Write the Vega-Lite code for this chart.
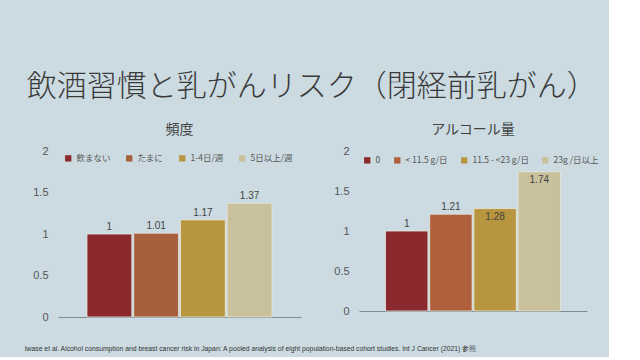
{
  "$schema": "https://vega.github.io/schema/vega-lite/v6.json",
  "background": "#cbdbe1",
  "padding": {"left": 24, "top": 72, "right": 10, "bottom": 4},
  "title": {"text": "飲酒習慣と乳がんリスク（閉経前乳がん）", "fontSize": 30, "font": "Noto Sans CJK JP", "fontWeight": 300, "color": "#3a3a3a", "anchor": "middle", "offset": 21},
  "datasets": {
    "freq": [
      {"category": "飲まない", "value": 1},
      {"category": "たまに", "value": 1.01},
      {"category": "1-4日/週", "value": 1.17},
      {"category": "5日以上/週", "value": 1.37}
    ],
    "alc": [
      {"category": "0", "value": 1},
      {"category": "< 11.5 g/日", "value": 1.21},
      {"category": "11.5 - <23 g/日", "value": 1.28},
      {"category": "23g /日以上", "value": 1.74}
    ]
  },
  "config": {
    "view": {"stroke": null},
    "font": "Noto Sans CJK JP",
    "concat": {"spacing": 32},
    "title": {"fontWeight": "normal", "color": "#444", "fontSize": 14}
  },
  "vconcat": [
    {
      "title": {"text": "Iwase et al. Alcohol consumption and breast cancer risk in Japan: A pooled analysis of eight population-based cohort studies. Int J Cancer (2021)   参照", "orient": "bottom", "anchor": "start", "fontSize": 6.8, "color": "#333", "font": "Liberation Sans", "offset": 24, "dx": -8},
      "resolve": {"scale": {"color": "independent"}, "legend": {"color": "independent"}},
      "hconcat": [
        {
          "title": {"text": "頻度", "offset": 8},
          "width": 243,
          "height": 166,
          "data": {"name": "freq"},
          "encoding": {
            "x": {"field": "category", "type": "nominal", "sort": null,
                  "scale": {"paddingInner": 0.04, "paddingOuter": 0.62},
                  "axis": {"labels": false, "ticks": false, "title": null, "domainColor": "#7d8a90"}},
            "y": {"field": "value", "type": "quantitative", "scale": {"domain": [0, 2]},
                  "axis": {"values": [0, 0.5, 1, 1.5, 2], "format": "~g", "domain": false, "ticks": false, "grid": false, "title": null, "labelFontSize": 11, "labelColor": "#555", "labelPadding": 10, "labelFont": "Liberation Sans"}}
          },
          "layer": [
            {"mark": {"type": "bar", "stroke": "#e8e8e0", "strokeWidth": 0.8},
             "encoding": {"color": {"field": "category", "type": "nominal", "sort": null,
               "scale": {"range": ["#8a2a2e", "#a6603c", "#b8963f", "#c8c19c"]},
               "legend": {"title": null, "orient": "none", "direction": "horizontal", "legendX": 6, "legendY": 3, "symbolType": "square", "symbolSize": 40, "symbolStrokeWidth": 0, "labelFontSize": 8.5, "labelColor": "#555", "columnPadding": 14, "labelOffset": 4}}}},
            {"mark": {"type": "text", "dy": -7, "fontSize": 10, "color": "#444", "font": "Liberation Sans"},
             "encoding": {"text": {"field": "value", "type": "quantitative"}}}
          ]
        },
        {
          "title": {"text": "アルコール量", "offset": 8},
          "width": 228,
          "height": 160,
          "data": {"name": "alc"},
          "encoding": {
            "x": {"field": "category", "type": "nominal", "sort": null,
                  "scale": {"paddingInner": 0.04, "paddingOuter": 0.6},
                  "axis": {"labels": false, "ticks": false, "title": null, "domainColor": "#7d8a90"}},
            "y": {"field": "value", "type": "quantitative", "scale": {"domain": [0, 2]},
                  "axis": {"values": [0, 0.5, 1, 1.5, 2], "format": "~g", "domain": false, "ticks": false, "grid": false, "title": null, "labelFontSize": 11, "labelColor": "#555", "labelPadding": 10, "labelFont": "Liberation Sans"}}
          },
          "layer": [
            {"mark": {"type": "bar", "stroke": "#e8e8e0", "strokeWidth": 0.8},
             "encoding": {"color": {"field": "category", "type": "nominal", "sort": null,
               "scale": {"range": ["#8a2a2e", "#b0603c", "#b8963f", "#c8c19c"]},
               "legend": {"title": null, "orient": "none", "direction": "horizontal", "legendX": 4, "legendY": 5, "symbolType": "square", "symbolSize": 40, "symbolStrokeWidth": 0, "labelFontSize": 8.5, "labelColor": "#555", "columnPadding": 12, "labelOffset": 4}}}},
            {"transform": [{"filter": "datum.value < 1.25"}],
             "mark": {"type": "text", "dy": -7, "fontSize": 10, "color": "#444", "font": "Liberation Sans"},
             "encoding": {"text": {"field": "value", "type": "quantitative"}}},
            {"transform": [{"filter": "datum.value >= 1.25"}],
             "mark": {"type": "text", "dy": 8, "fontSize": 10, "color": "#444", "font": "Liberation Sans"},
             "encoding": {"text": {"field": "value", "type": "quantitative"}}}
          ]
        }
      ]
    }
  ]
}
